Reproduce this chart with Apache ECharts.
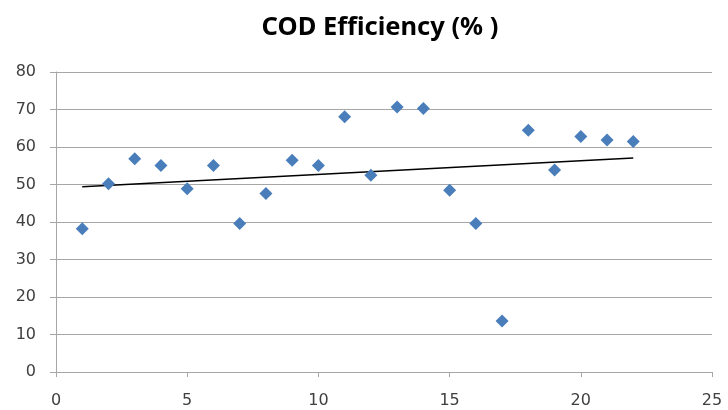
<!DOCTYPE html>
<html>
<head>
<meta charset="utf-8">
<script src="https://cdn.jsdelivr.net/npm/echarts@6/dist/echarts.min.js"></script>
<style>
  html, body { margin: 0; padding: 0; background: #fff; }
  #chart { width: 728px; height: 410px; }
</style>
</head>
<body>
<div id="chart"></div>
<script>
// Sample index and COD removal efficiency (%)
const sampleNo = [1, 2, 3, 4, 5, 6, 7, 8, 9, 10, 11, 12, 13, 14, 15, 16, 17, 18, 19, 20, 21, 22];
const codEfficiency = [38.2, 50.2, 56.9, 55.1, 48.9, 55.1, 39.6, 47.6, 56.5, 55.1, 68.1, 52.5,
                       70.7, 70.3, 48.5, 39.6, 13.6, 64.5, 53.9, 62.8, 61.9, 61.5];
const chartTitle = 'COD Efficiency (% )';

// Least-squares linear trend through the points
function linearTrend(xs, ys) {
  const n = xs.length;
  const mx = xs.reduce((a, b) => a + b, 0) / n;
  const my = ys.reduce((a, b) => a + b, 0) / n;
  let sxy = 0, sxx = 0;
  for (let i = 0; i < n; i++) {
    sxy += (xs[i] - mx) * (ys[i] - my);
    sxx += (xs[i] - mx) * (xs[i] - mx);
  }
  const slope = sxy / sxx;
  const icpt = my - slope * mx;
  const x0 = xs[0], x1 = xs[n - 1];
  return [[x0, icpt + slope * x0], [x1, icpt + slope * x1]];
}

const points = sampleNo.map((x, i) => [x, codEfficiency[i]]);
const trend = linearTrend(sampleNo, codEfficiency);

const labelFont = { color: '#404040', fontSize: 16, fontFamily: 'DejaVu Sans, Liberation Sans, sans-serif' };
const gridColor = '#a6a6a6';

const chart = echarts.init(document.getElementById('chart'), null, { renderer: 'canvas' });
chart.setOption({
  backgroundColor: '#ffffff',
  animation: false,
  title: {
    text: chartTitle,
    left: 375,
    textAlign: 'center',
    top: 10,
    textStyle: { fontSize: 25.5, fontWeight: 'bold', color: '#000', fontFamily: 'Noto Sans, sans-serif' }
  },
  grid: { left: 56, right: 16, top: 72, bottom: 38 },
  xAxis: {
    type: 'value',
    min: 0, max: 25, interval: 5,
    axisLine: { show: true, lineStyle: { color: gridColor, width: 1 } },
    axisTick: { show: true, length: 5, lineStyle: { color: gridColor } },
    axisLabel: Object.assign({ margin: 21 }, labelFont),
    splitLine: { show: false }
  },
  yAxis: {
    type: 'value',
    min: 0, max: 80, interval: 10,
    axisLine: { show: true, lineStyle: { color: gridColor, width: 1 } },
    axisTick: { show: true, length: 6, lineStyle: { color: gridColor } },
    axisLabel: Object.assign({ margin: 20 }, labelFont),
    splitLine: { show: true, lineStyle: { color: gridColor, width: 1 } }
  },
  series: [
    {
      type: 'scatter',
      data: points,
      symbol: 'diamond',
      symbolSize: 13,
      itemStyle: { color: '#4a7ebb', opacity: 1 },
      z: 3
    },
    {
      type: 'line',
      data: trend,
      symbol: 'none',
      lineStyle: { color: '#000', width: 1.3 },
      z: 2
    }
  ]
});
</script>
</body>
</html>
